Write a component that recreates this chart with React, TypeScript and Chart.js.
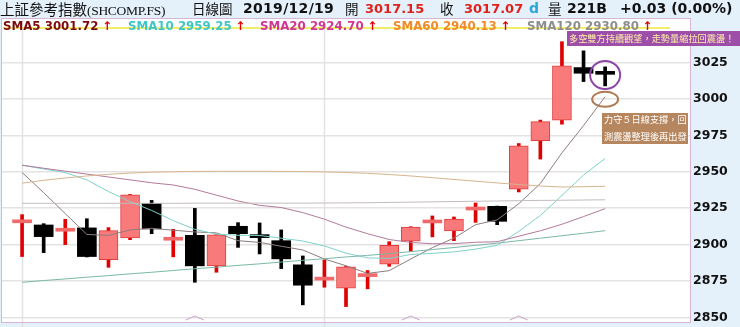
import React, { useEffect, useRef } from "react";
import { Chart, registerables } from "chart.js";

Chart.register(...registerables);

// ---- data ----
const dayIndex = [0, 1, 2, 3, 4, 5, 6, 7, 8, 9, 10, 11, 12, 13, 14, 15, 16, 17, 18, 19, 20, 21, 22, 23, 24, 25, 26, 27];
const opens = [2915.0, 2913.5, 2909.2, 2911.5, 2889.7, 2904.6, 2928.3, 2903.0, 2906.4, 2885.4, 2912.6, 2905.0, 2902.7, 2886.1, 2875.6, 2870.0, 2878.0, 2886.5, 2902.3, 2914.9, 2909.4, 2923.8, 2926.3, 2938.2, 2971.4, 2985.6, 3021.7, 3017.15];
const highs = [2920.6, 2914.4, 2917.4, 2917.8, 2911.7, 2934.5, 2930.4, 2910.5, 2924.9, 2906.9, 2915.1, 2914.9, 2910.1, 2892.2, 2889.5, 2885.0, 2882.2, 2902.0, 2912.3, 2919.7, 2919.0, 2928.6, 2926.5, 2969.5, 2985.6, 3039.5, 3033.2, 3022.2];
const lows = [2891.8, 2894.5, 2900.0, 2891.5, 2884.4, 2903.4, 2907.5, 2891.6, 2874.1, 2881.0, 2898.1, 2893.6, 2883.5, 2858.6, 2870.7, 2857.4, 2869.6, 2885.1, 2895.2, 2905.3, 2902.7, 2915.3, 2913.7, 2936.2, 2958.8, 2982.8, 3012.1, 3009.1];
const closes = [2915.2, 2905.5, 2909.4, 2891.8, 2909.6, 2934.3, 2910.8, 2903.2, 2885.4, 2906.7, 2907.5, 2904.8, 2890.2, 2872.1, 2875.8, 2884.7, 2878.2, 2899.5, 2912.1, 2915.1, 2917.6, 2924.0, 2916.0, 2967.9, 2984.6, 3022.9, 3017.8, 3017.07];

const sma5 = [2949.6, 2935.7, 2921.3, 2907.0, 2906.3, 2910.1, 2911.2, 2909.9, 2908.7, 2908.1, 2902.7, 2901.5, 2898.9, 2896.3, 2890.1, 2885.5, 2880.2, 2882.1, 2890.1, 2897.9, 2904.5, 2913.7, 2917.0, 2928.1, 2942.0, 2963.1, 2981.8, 3001.72];
const sma10 = [2954.6, 2952.0, 2949.5, 2944.5, 2936.5, 2929.5, 2923.5, 2916.5, 2910.5, 2907.2, 2906.4, 2906.3, 2904.4, 2902.5, 2899.1, 2894.1, 2890.9, 2890.5, 2893.2, 2894.0, 2895.0, 2896.9, 2899.5, 2909.1, 2920.0, 2933.8, 2947.8, 2959.25];
const sma20 = [2954.6, 2952.5, 2950.5, 2948.5, 2946.5, 2944.5, 2942.5, 2941.0, 2938.0, 2934.0, 2930.0, 2927.0, 2925.5, 2922.0, 2917.5, 2912.0, 2907.5, 2903.5, 2901.5, 2900.6, 2900.7, 2901.6, 2902.0, 2905.8, 2909.5, 2914.0, 2919.3, 2924.7];
const sma60 = [2942.3, 2944.2, 2945.8, 2947.2, 2948.3, 2949.2, 2949.8, 2950.1, 2950.3, 2950.4, 2950.4, 2950.4, 2950.3, 2950.2, 2950.0, 2949.6, 2949.0, 2948.2, 2947.2, 2946.0, 2944.8, 2943.6, 2942.4, 2941.3, 2940.3, 2939.6, 2939.8, 2940.13];
const sma120 = [2928.4, 2928.4, 2928.4, 2928.4, 2928.4, 2928.4, 2928.4, 2928.4, 2928.5, 2928.5, 2928.5, 2928.5, 2928.5, 2928.5, 2928.6, 2928.7, 2928.8, 2929.0, 2929.2, 2929.4, 2929.6, 2929.8, 2930.0, 2930.2, 2930.4, 2930.5, 2930.65, 2930.8];
const smaLong = [2874.1, 2875.3, 2876.4, 2877.6, 2878.7, 2879.9, 2881.0, 2882.2, 2883.4, 2884.5, 2885.7, 2886.8, 2888.0, 2889.2, 2890.3, 2891.5, 2892.6, 2893.8, 2895.2, 2896.6, 2898.0, 2899.5, 2901.0, 2902.7, 2904.4, 2906.1, 2907.8, 2909.6];

const yTicks = [2850, 2875, 2900, 2925, 2950, 2975, 3000, 3025];
const periodLines = [0, 14];
const markerDays = [8, 18, 23];

const legendNames = ["SMA5", "SMA10", "SMA20", "SMA60", "SMA120"];
const legendValues = ["3001.72", "2959.25", "2924.70", "2940.13", "2930.80"];

// annotation anchors (day index, price)
const circleAnchor = { day: 27, price: 3016.6 };
const ellipseAnchor = { day: 27, price: 2999.9 };

const UP_FILL = "#f87a7a";
const UP_EDGE = "#e23c3c";
const UP_WICK = "#e00000";
const DOJI_UP = "#f06a6a";
const DOWN = "#000000";

export default function App() {
  const ref = useRef<HTMLCanvasElement>(null);

  useEffect(() => {
    document.body.style.margin = "0";
    const canvas = ref.current!;
    const isUp = opens.map((o, i) => closes[i] >= o);
    const isDoji = opens.map((o, i) => Math.abs(closes[i] - o) < 0.8);
    const bodyData = dayIndex.map((d, i) => ({ x: d, y: [opens[i], closes[i]] }));
    const wickData = dayIndex.map((d, i) => ({ x: d, y: [lows[i], highs[i]] }));
    const line = (arr: number[]) => dayIndex.map((d, i) => ({ x: d, y: arr[i] }));

    const deco = {
      id: "deco",
      beforeDraw(chart: any) {
        const { ctx, chartArea: a } = chart;
        ctx.save();
        ctx.fillStyle = "#ffffff";
        ctx.fillRect(a.left, a.top, a.right - a.left, a.bottom - a.top);
        ctx.restore();
      },
      beforeDatasetsDraw(chart: any) {
        const { ctx, chartArea: a, scales } = chart;
        ctx.save();
        ctx.strokeStyle = "#e2e2e2";
        ctx.lineWidth = 1.5;
        for (const v of periodLines) {
          const x = Math.round(scales.x.getPixelForValue(v)) + 0.5;
          ctx.beginPath();
          ctx.moveTo(x, a.top);
          ctx.lineTo(x, chart.height);
          ctx.stroke();
        }
        // yellow highlight line under the legend
        ctx.strokeStyle = "#f2ee6a";
        ctx.lineWidth = 2;
        ctx.beginPath();
        ctx.moveTo(a.left + 1, 28);
        ctx.lineTo(670, 28);
        ctx.stroke();
        // chevron markers
        ctx.strokeStyle = "#c9a3c9";
        ctx.lineWidth = 1;
        for (const d of markerDays) {
          const x = scales.x.getPixelForValue(d);
          const y = a.bottom - 3;
          ctx.beginPath();
          ctx.moveTo(x - 9, y + 1);
          ctx.lineTo(x, y - 3);
          ctx.lineTo(x + 9, y + 1);
          ctx.stroke();
        }
        ctx.restore();
      },
      afterDraw(chart: any) {
        const { ctx, chartArea: a, scales } = chart;
        ctx.save();
        ctx.strokeStyle = "#d9b4d9";
        ctx.lineWidth = 1;
        ctx.strokeRect(a.left - 0.5, a.top - 0.5, a.right - a.left + 1, a.bottom - a.top + 1);
        // purple circle
        ctx.strokeStyle = "#8e46a8";
        ctx.lineWidth = 2;
        ctx.beginPath();
        ctx.ellipse(scales.x.getPixelForValue(circleAnchor.day), scales.y.getPixelForValue(circleAnchor.price), 15, 14, 0, 0, Math.PI * 2);
        ctx.stroke();
        // brown ellipse
        ctx.strokeStyle = "#b07a52";
        ctx.beginPath();
        ctx.ellipse(scales.x.getPixelForValue(ellipseAnchor.day), scales.y.getPixelForValue(ellipseAnchor.price), 13, 7.5, 0, 0, Math.PI * 2);
        ctx.stroke();
        ctx.restore();
      },
    };

    const lineDs = (arr: number[], color: string) => ({
      type: "line" as const,
      data: line(arr),
      borderColor: color,
      borderWidth: 1,
      pointRadius: 0,
      tension: 0,
      order: 0,
    });

    const chart = new Chart(canvas, {
      type: "bar",
      data: {
        datasets: [
          lineDs(smaLong, "#7ab8a8"),
          lineDs(sma120, "#c4bcbc"),
          lineDs(sma60, "#d8b48e"),
          lineDs(sma20, "#b47a9c"),
          lineDs(sma10, "#7ed2ca"),
          lineDs(sma5, "#8f7c7c"),
          {
            type: "bar",
            data: bodyData as any,
            backgroundColor: dayIndex.map((_, i) => (isUp[i] ? (isDoji[i] ? DOJI_UP : UP_FILL) : DOWN)),
            borderColor: dayIndex.map((_, i) => (isUp[i] ? (isDoji[i] ? DOJI_UP : UP_EDGE) : DOWN)),
            borderWidth: dayIndex.map((_, i) => (isUp[i] && !isDoji[i] ? 1 : 0)),
            borderSkipped: false,
            barThickness: 19,
            minBarLength: 3,
            grouped: false,
            order: 1,
          } as any,
          {
            type: "bar",
            data: wickData as any,
            backgroundColor: dayIndex.map((_, i) => (isUp[i] ? UP_WICK : DOWN)),
            borderWidth: 0,
            barThickness: 3,
            grouped: false,
            order: 2,
          } as any,
        ],
      },
      options: {
        animation: false,
        responsive: false,
        devicePixelRatio: 1,
        layout: { padding: { left: 2, top: 19, right: 0, bottom: 5 } },
        plugins: { legend: { display: false }, tooltip: { enabled: false } },
        scales: {
          x: {
            type: "linear",
            display: false,
            min: -0.93,
            max: 30.93,
            offset: false,
          },
          y: {
            position: "right",
            min: 2846.8,
            max: 3055.1,
            border: { display: false },
            grid: { color: "#e3e3e3", lineWidth: 1.5, drawTicks: false },
            ticks: {
              color: "#111",
              padding: 3,
              font: { family: "'DejaVu Sans'", weight: "bold", size: 12.5 },
              callback: (v: any) => String(v),
            },
            afterBuildTicks: (s: any) => {
              s.ticks = yTicks.map((v) => ({ value: v }));
            },
            afterFit: (s: any) => {
              s.width = 50;
              s.paddingTop = 0;
              s.paddingBottom = 0;
            },
          },
        },
      } as any,
      plugins: [deco],
    });
    return () => chart.destroy();
  }, []);

  const hdr: React.CSSProperties = {
    position: "absolute",
    top: 0,
    height: 19,
    lineHeight: "17px",
    whiteSpace: "nowrap",
    color: "#111",
  };
  const cjk = "'Noto Sans CJK TC', 'Noto Sans CJK SC', sans-serif";
  const num = "'DejaVu Sans', Verdana, sans-serif";
  const legendColors = ["#7d0a0a", "#3ec6c6", "#d03696", "#f08a2a", "#8e8e8e"];
  const legendLefts = [3, 128, 260, 393, 527];

  return (
    <div style={{ position: "relative", width: 740, height: 327, overflow: "hidden", background: "#e4f0fa" }}>
      <canvas ref={ref} width={740} height={327} style={{ position: "absolute", left: 0, top: 0, display: "block" }} />

      {/* header */}
      <div style={{ ...hdr, left: 0, fontFamily: cjk, fontSize: 14.5 }}>
        上証參考指數<span style={{ fontFamily: "'Liberation Serif', serif", fontSize: 13.5, letterSpacing: -0.3 }}>(SHCOMP.FS)</span>
      </div>
      <div style={{ ...hdr, left: 192, fontFamily: cjk, fontSize: 13.5 }}>日線圖</div>
      <div style={{ ...hdr, left: 243, fontFamily: num, fontSize: 14, fontWeight: "bold", letterSpacing: 0.3 }}>2019/12/19</div>
      <div style={{ ...hdr, left: 345, fontFamily: cjk, fontSize: 13.5 }}>開</div>
      <div style={{ ...hdr, left: 365, fontFamily: num, fontSize: 13, fontWeight: "bold", color: "#e0201c" }}>3017.15</div>
      <div style={{ ...hdr, left: 440, fontFamily: cjk, fontSize: 13.5 }}>收</div>
      <div style={{ ...hdr, left: 464, fontFamily: num, fontSize: 13, fontWeight: "bold", color: "#e0201c" }}>3017.07</div>
      <div style={{ ...hdr, left: 529, fontFamily: num, fontSize: 14, fontWeight: "bold", color: "#2aa6dc" }}>d</div>
      <div style={{ ...hdr, left: 548, fontFamily: cjk, fontSize: 13.5 }}>量</div>
      <div style={{ ...hdr, left: 567, fontFamily: num, fontSize: 14, fontWeight: "bold" }}>221B</div>
      <div style={{ ...hdr, left: 620, fontFamily: num, fontSize: 14, fontWeight: "bold" }}>+0.03 (0.00%)</div>

      {/* legend */}
      {legendNames.map((n, i) => (
        <div
          key={n}
          style={{
            position: "absolute",
            left: legendLefts[i],
            top: 19,
            height: 15,
            lineHeight: "15px",
            whiteSpace: "nowrap",
            fontFamily: num,
            fontWeight: "bold",
            fontSize: 11.8,
            color: legendColors[i],
          }}
        >
          {n} {legendValues[i]}
          <span style={{ color: "#e00000", marginLeft: 4 }}>↑</span>
        </div>
      ))}

      {/* purple note */}
      <div
        style={{
          position: "absolute",
          left: 567,
          top: 31,
          width: 180,
          height: 15,
          lineHeight: "15px",
          background: "#9d4ea8",
          color: "#fff2a8",
          fontFamily: cjk,
          fontSize: 9.2,
          paddingLeft: 2,
          whiteSpace: "nowrap",
        }}
      >
        多空雙方持續觀望，走勢量縮拉回震盪！
      </div>

      {/* brown note */}
      <div
        style={{
          position: "absolute",
          left: 602,
          top: 113,
          width: 86,
          height: 31,
          background: "#b6865e",
          color: "#ffffff",
          fontFamily: cjk,
          fontSize: 9.2,
          whiteSpace: "nowrap",
        }}
      >
        <div style={{ position: "absolute", left: 2, top: 0, lineHeight: "13px" }}>力守５日線支撐，回</div>
        <div style={{ position: "absolute", left: 2, top: 17, lineHeight: "13px" }}>測震盪整理後再出發</div>
      </div>
    </div>
  );
}
